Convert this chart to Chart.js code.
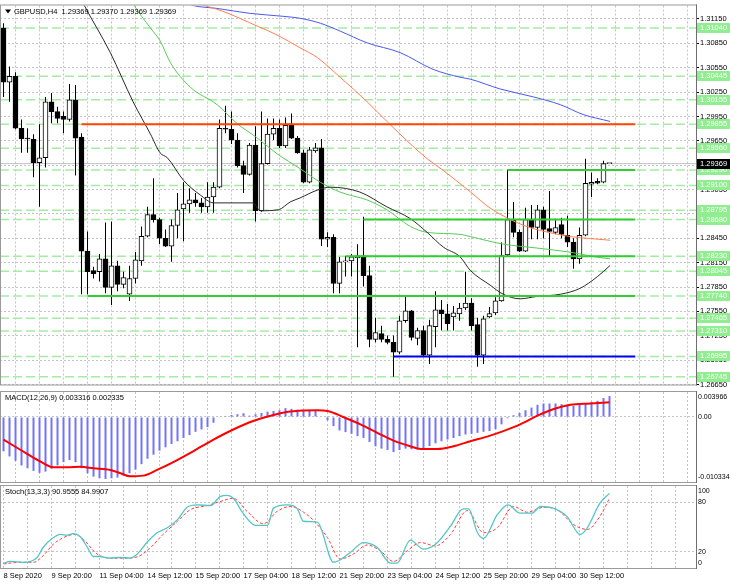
<!DOCTYPE html>
<html>
<head>
<meta charset="utf-8">
<script src="https://cdn.jsdelivr.net/npm/chart.js@4.4.1/dist/chart.umd.min.js"></script>
<style>
  body { margin: 0; background: #fff; width: 730px; height: 584px; overflow: hidden; }
  canvas { position: absolute; left: 0; }
</style>
</head>
<body>
<canvas id="main" width="730" height="390" style="top:0"></canvas>
<canvas id="macd" width="730" height="94" style="top:390px"></canvas>
<canvas id="stoch" width="730" height="100" style="top:484px"></canvas>
<script>
// --- GBPUSD H4 candles, bar 0 = 8 Sep 12:00 ---
const opens = [1.31038,1.30373,1.30445,1.29805,1.29684,1.29672,1.29381,1.29442,1.30131,1.30010,
  1.29950,1.29913,1.30155,1.29696,1.28293,1.28052,1.28039,1.28197,1.27846,1.28112,
  1.27882,1.27761,1.27955,1.28172,1.28475,1.28741,1.28680,1.28450,1.28354,1.28608,
  1.28813,1.28874,1.28922,1.28886,1.28837,1.28958,1.29079,1.29805,1.29792,1.29660,
  1.29345,1.29236,1.29599,1.28789,1.29369,1.29732,1.29805,1.29587,1.29841,1.29684,
  1.29502,1.29140,1.29527,1.29563,1.28438,1.28463,1.27894,1.28160,1.28172,1.28209,
  1.28233,1.27991,1.27205,1.27278,1.27205,1.27169,1.27048,1.27435,1.27556,1.27217,
  1.27314,1.27012,1.27362,1.27568,1.27520,1.27483,1.27520,1.27592,1.27653,1.27387,
  1.27012,1.27483,1.27532,1.27680,1.28245,1.28680,1.28523,1.28293,1.28680,1.28583,
  1.28801,1.28571,1.28523,1.28620,1.28487,1.28402,1.28197,1.28487,1.29115,1.29152,
  1.29140,1.29369];
const highs = [1.31098,1.30566,1.30494,1.29913,1.29805,1.29732,1.29853,1.30191,1.30240,1.30071,
  1.30010,1.30349,1.30337,1.29744,1.28535,1.28100,1.28257,1.28644,1.28656,1.28172,
  1.28039,1.28112,1.28281,1.28596,1.28837,1.29188,1.28704,1.28559,1.28680,1.29007,
  1.29140,1.29067,1.29007,1.28946,1.29140,1.29140,1.29913,1.30083,1.30010,1.29744,
  1.29406,1.29623,1.29829,1.30010,1.29926,1.29926,1.29913,1.29938,1.29986,1.29708,
  1.29539,1.29575,1.29623,1.29672,1.28523,1.28499,1.28221,1.28233,1.28257,1.28378,
  1.28716,1.28112,1.27471,1.27374,1.27254,1.27254,1.27495,1.27737,1.27568,1.27350,
  1.27374,1.27447,1.27798,1.27689,1.27640,1.27616,1.27653,1.28039,1.27713,1.27471,
  1.27495,1.27604,1.27725,1.28399,1.29298,1.28898,1.28559,1.28825,1.28861,1.28861,
  1.28837,1.29031,1.28692,1.28704,1.28728,1.28450,1.28583,1.29430,1.29261,1.29188,
  1.29406,1.29370];
const lows = [1.30191,1.30131,1.29792,1.29502,1.29502,1.29200,1.28837,1.29321,1.29865,1.29865,
  1.29744,1.29889,1.29224,1.27761,1.27761,1.27955,1.27919,1.27773,1.27628,1.27798,
  1.27834,1.27677,1.27894,1.28112,1.28463,1.28644,1.28378,1.28342,1.28160,1.28450,
  1.28414,1.28765,1.28837,1.28765,1.28765,1.28765,1.29067,1.29744,1.29611,1.29321,
  1.29007,1.29224,1.28656,1.28777,1.29357,1.29660,1.29563,1.29563,1.29672,1.29490,
  1.29128,1.29128,1.29502,1.28354,1.28342,1.27773,1.27773,1.27979,1.27979,1.27109,
  1.27858,1.27109,1.27169,1.27169,1.27145,1.26746,1.27024,1.27411,1.27193,1.27133,
  1.26988,1.26903,1.27109,1.27314,1.27314,1.27314,1.27435,1.27568,1.27314,1.26867,
  1.26903,1.27471,1.27507,1.27668,1.28221,1.28463,1.28281,1.28281,1.28438,1.28438,
  1.28450,1.28233,1.28499,1.28450,1.28342,1.28076,1.28136,1.28475,1.28958,1.29115,
  1.29128,1.29369];
const closes = [1.30373,1.30445,1.29805,1.29672,1.29672,1.29381,1.29442,1.30131,1.30010,1.29926,
  1.29913,1.30155,1.29684,1.28293,1.28039,1.28015,1.28197,1.27846,1.28112,1.27882,
  1.27967,1.27955,1.28185,1.28475,1.28741,1.28680,1.28450,1.28354,1.28608,1.28801,
  1.28874,1.28922,1.28886,1.28837,1.28958,1.29079,1.29805,1.29792,1.29660,1.29345,
  1.29236,1.29599,1.28789,1.29369,1.29732,1.29805,1.29587,1.29841,1.29684,1.29502,
  1.29140,1.29539,1.29563,1.28438,1.28463,1.27894,1.28160,1.28172,1.28221,1.28233,
  1.27991,1.27205,1.27290,1.27205,1.27169,1.27048,1.27435,1.27556,1.27229,1.27314,
  1.27012,1.27374,1.27568,1.27520,1.27399,1.27532,1.27592,1.27653,1.27374,1.27012,
  1.27459,1.27523,1.27680,1.28237,1.28680,1.28523,1.28293,1.28680,1.28583,1.28801,
  1.28559,1.28535,1.28583,1.28499,1.28402,1.28197,1.28487,1.29128,1.29140,1.29128,
  1.29369,1.29369];
const lastPrice = 1.29369;

// moving averages, read as [bar, price]
const maBlack = [[12.5,1.31461],[13.3,1.31340],[17.8,1.30736],[21.6,1.30131],[24.5,1.29732],[26.1,1.29502],
  [27.3,1.29442],[30,1.29164],[32.8,1.28983],[35,1.28886],[41.6,1.28886],[42.8,1.28789],[45.8,1.28801],
  [47.8,1.28898],[49.4,1.28946],[52.3,1.29043],[54.5,1.29079],[59.4,1.29019],[63.9,1.28837],[67.8,1.28692],
  [70.6,1.28523],[73.3,1.28342],[76.1,1.28221],[77.8,1.28055],[81.1,1.27874],[83.3,1.27761],[86.1,1.27705],
  [88.9,1.27734],[92.8,1.27761],[96.1,1.27834],[99,1.27979],[101.1,1.28116]];
const maGreen = [[20.8,1.31461],[21.6,1.31340],[24.5,1.31038],[26.1,1.30881],[27.8,1.30615],[31.1,1.30312],
  [35.6,1.30095],[38.9,1.29865],[42.3,1.29684],[45.6,1.29490],[49.4,1.29309],[52.8,1.29140],[56.1,1.29019],
  [60.6,1.28922],[63.9,1.28801],[67.8,1.28596],[70.6,1.28523],[76.1,1.28499],[77.8,1.28471],[83.3,1.28378],
  [88.9,1.28330],[94.5,1.28278],[99,1.28217],[101.1,1.28197]];
const maOrange = [[29.5,1.31400],[32.3,1.31340],[36.6,1.31243],[42.3,1.31062],[45.6,1.30953],[49.4,1.30796],
  [52.3,1.30675],[56.1,1.30433],[60.6,1.30131],[63.9,1.29889],[67.3,1.29647],[70.6,1.29430],[73.3,1.29285],
  [77.8,1.29022],[81.1,1.28822],[84.5,1.28680],[87.8,1.28580],[91.1,1.28519],[94.5,1.28471],[97.8,1.28447],
  [101.1,1.28426]];
const maBlue = [[30.3,1.31352],[31.6,1.31316],[35.6,1.31280],[41.1,1.31219],[46.6,1.31183],[49.4,1.31159],
  [52.8,1.31098],[56.1,1.31001],[60.6,1.30856],[66.1,1.30736],[71.6,1.30530],[76.1,1.30433],[77.8,1.30409],
  [82.8,1.30288],[88.3,1.30191],[92.8,1.30095],[96.6,1.29974],[101.1,1.29889]];

// horizontal levels
const dashedLevels = [1.31040,1.30445,1.30155,1.29855,1.29560,1.29290,1.29100,1.28795,
  1.28680,1.28230,1.28045,1.27740,1.27465,1.27310,1.26995,1.26745];
const levelPrices = [1.29855, 1.29290, 1.28680, 1.28230, 1.27740, 1.26995];
const levelStarts = [13, 84, 60, 57, 14, 65];
const priceTicks = [1.26650,1.26950,1.27250,1.27550,1.27850,1.28150,1.28450,1.28750,
  1.29050,1.29350,1.29650,1.29950,1.30250,1.30550,1.30850,1.31150];

// MACD(12,26,9)
const macdHist = [-0.00546,-0.00627,-0.00696,-0.00771,-0.00815,-0.00857,-0.00889,-0.00868,-0.00824,-0.00771,
  -0.00718,-0.00686,-0.00718,-0.00815,-0.00895,-0.00948,-0.00975,-0.00985,-0.00975,-0.00964,
  -0.00932,-0.00895,-0.00836,-0.00750,-0.00664,-0.00599,-0.00535,-0.00482,-0.00429,-0.00386,
  -0.00333,-0.00289,-0.00236,-0.00198,-0.00161,-0.00092,-0.00005,0.00016,0.00032,0.00043,
  0.00059,0.00021,0.00043,0.00064,0.00085,0.00096,0.00108,0.00140,0.00129,0.00117,
  0.00108,0.00108,0.00108,0.00000,-0.00053,-0.00145,-0.00214,-0.00241,-0.00268,-0.00305,
  -0.00333,-0.00397,-0.00466,-0.00503,-0.00525,-0.00558,-0.00525,-0.00503,-0.00514,-0.00519,
  -0.00493,-0.00461,-0.00418,-0.00386,-0.00358,-0.00333,-0.00305,-0.00278,-0.00268,-0.00252,
  -0.00236,-0.00225,-0.00193,-0.00117,-0.00021,0.00027,0.00064,0.00108,0.00149,0.00193,
  0.00214,0.00214,0.00214,0.00204,0.00193,0.00177,0.00193,0.00214,0.00236,0.00257,
  0.00301,0.00332];
const macdSignal = [[0,-0.00360],[2.8,-0.00521],[6.1,-0.00707],[8.3,-0.00799],[10.6,-0.00799],[12.8,-0.00793],
  [15,-0.00815],[17.8,-0.00842],[19.5,-0.00895],[21.1,-0.00943],[23.3,-0.00932],[25.6,-0.00842],[28.3,-0.00718],
  [31.6,-0.00546],[35,-0.00360],[38.3,-0.00199],[41.6,-0.00064],[45,0.00032],[47.8,0.00085],[52.3,0.00106],
  [54,0.00096],[56.6,0],[59.5,-0.00119],[62.3,-0.00252],[65,-0.00376],[67.8,-0.00466],[69.5,-0.00509],
  [72.3,-0.00509],[75,-0.00466],[77.8,-0.00386],[81.1,-0.00296],[83.3,-0.00225],[86.1,-0.00119],[88.9,0.00016],
  [91.6,0.00122],[94.5,0.00193],[97.8,0.00214],[101,0.00234]];
const macdAxisValues = [0.003966, 0, -0.010334];
const macdAxisLabels = ['0.003966', '0.00', '-0.010334'];

// Stochastic(13,3,3)
const stochMain = [[0,5.5],[1.1,8],[3.3,6.8],[4.5,8],[5.6,12.8],[6.6,25],[8.1,36],[9.5,41],[10.6,40],[11.6,42],
  [12.8,38],[14,25],[15,14],[16.1,14],[17.8,12],[19.5,13],[21.1,12],[22.3,17],[24,32],[25.6,43],[27.3,49],
  [29,59],[30.6,74],[32.3,77],[34.5,76],[36.1,87],[37.3,88.5],[38.3,85],[40,66],[42,52],[44,52],[45,73],
  [47.3,77],[48.9,73],[50,57],[52.3,56],[55,7],[57.8,19],[60,31],[62.3,25],[64.5,6],[65.6,6],[67.8,34],
  [70,23],[72,29],[74.5,51],[76.6,72],[77.5,72],[79,43],[80,36],[82.3,65],[84.1,77],[86.1,67],[88.1,67],
  [89.5,75],[91.6,73],[93.9,63],[96.1,41],[97.3,49],[99.4,79],[101,91]];
const stochSignal = [[0,5],[2.8,7],[5,7],[6.6,15],[8.3,29],[10.6,39],[12,41],[13.3,35],[15.6,17],[17.8,12],
  [20,12],[22.3,13.6],[24.5,25],[26.6,41],[29,57],[31.1,71],[33.9,76],[36.1,81],[38.3,85],[40.6,69],[43.3,54],
  [45.6,69],[47.8,75],[50.6,65],[52.3,53],[54,37],[56.1,11],[58.3,17],[60.6,28],[62.8,21],[65,8],[67.3,21],
  [69.5,31],[72,27],[74.5,41],[77.3,70],[80,43],[82.3,49],[85,75],[87.3,68],[90,74],[92.3,71],[95,53],
  [97.3,47],[99.4,63],[101,85]];
const stochAxisValues = [100, 80, 20, 0];
const stochLevels = [20, 80];

// bottom time axis, one label every 8 bars
const timeLabels = ['8 Sep 2020','9 Sep 20:00','11 Sep 04:00','14 Sep 12:00','15 Sep 20:00','17 Sep 04:00',
  '18 Sep 12:00','21 Sep 20:00','23 Sep 04:00','24 Sep 12:00','25 Sep 20:00','29 Sep 04:00','30 Sep 12:00'];

const FONT = '"Liberation Sans", Arial, sans-serif';
const xMin = -0.5833, xMax = 115.4167;   // 116 slots of 6px, leaves room on the right
const gridBars = Array.from({ length: 29 }, (_, k) => k * 4);

// frame, titles, right-hand labels
const panelPlugin = {
  id: 'panel',
  afterDraw(chart, args, opts) {
    const { ctx, chartArea: a } = chart;
    const y = chart.scales.y;
    ctx.save();
    ctx.strokeStyle = '#9a9a9a';
    ctx.lineWidth = 1;
    ctx.strokeRect(0.5, a.top - 0.5, a.right, a.bottom - a.top + 1);
    ctx.strokeStyle = '#6e6e6e';
    ctx.beginPath();
    ctx.moveTo(a.right + 0.5, a.top - 1);
    ctx.lineTo(a.right + 0.5, a.bottom + 1);
    ctx.stroke();

    ctx.textBaseline = 'middle';
    ctx.fillStyle = '#000';
    ctx.font = '7.5px ' + FONT;
    if (opts.arrow) {
      ctx.beginPath();
      ctx.moveTo(5, a.top + 4); ctx.lineTo(11, a.top + 4); ctx.lineTo(8, a.top + 8);
      ctx.closePath(); ctx.fill();
    }
    ctx.fillText(opts.title, opts.titleX, a.top + 6);

    ctx.font = '7px ' + FONT;
    (opts.axis || []).forEach(t => {
      const py = Math.min(Math.max(y.getPixelForValue(t.value), a.top + 5), a.bottom - 5);
      ctx.fillText(t.text, a.right + 2, py);
    });

    ctx.font = '7.5px ' + FONT;
    (opts.tags || []).forEach(t => {
      const py = Math.round(y.getPixelForValue(t.value));
      ctx.fillStyle = t.bg;
      ctx.fillRect(a.right + 1, py - 5, 34, 10);
      ctx.fillStyle = t.fg;
      ctx.fillText(t.value.toFixed(5), a.right + 4, py);
    });
    ctx.restore();
  }
};

function xAxis(showLabels) {
  return {
    type: 'linear', min: xMin, max: xMax, offset: false,
    afterBuildTicks: s => { s.ticks = gridBars.map(v => ({ value: v })); },
    afterFit: s => { s.height = showLabels ? 16 : 0; },
    grid: { color: '#c4c4c4', drawTicks: false },
    border: { display: false, dash: [2, 2] },
    ticks: {
      display: showLabels, autoSkip: false, maxRotation: 0, align: 'start', padding: 3,
      color: '#000', font: { family: FONT, size: 7.5 },
      callback: v => (v % 8 === 0 && timeLabels[v / 8]) ? timeLabels[v / 8] : ''
    }
  };
}

function baseOptions(yAxis, showX, panel) {
  return {
    responsive: false, animation: false, events: [],
    layout: { padding: { top: 2, bottom: showX ? 0 : 2, left: 0, right: 0 }, autoPadding: false },
    plugins: { legend: { display: false }, tooltip: { enabled: false }, panel },
    scales: { x: xAxis(showX), y: yAxis }
  };
}

const flat = (p, from, to) => [{ x: from, y: p }, { x: to, y: p }];
const pts = arr => arr.map(([x, y]) => ({ x, y }));

// --- price panel ---
const mainSets = [];
dashedLevels.forEach(p => mainSets.push({
  type: 'line', data: flat(p, xMin, xMax), borderColor: '#a4eca4', borderWidth: 1.5,
  borderDash: [9, 4], pointRadius: 0, order: 20
}));
mainSets.push({ type: 'line', data: flat(lastPrice, xMin, xMax), borderColor: '#c0c0c0',
  borderWidth: 1, pointRadius: 0, order: 19 });
mainSets.push({
  type: 'bar', data: highs.map((h, i) => ({ x: i, y: [lows[i], h] })),
  backgroundColor: '#000', barThickness: 1, inflateAmount: 0, grouped: false, order: 11
});
mainSets.push({
  type: 'bar', data: opens.map((o, i) => ({ x: i, y: [o, closes[i]] })),
  backgroundColor: c => closes[c.dataIndex] >= opens[c.dataIndex] ? '#fff' : '#000',
  borderColor: '#000', borderWidth: 1, borderSkipped: false, barThickness: 5,
  minBarLength: 1, grouped: false, order: 10
});
[[maBlack, '#2a2a2a'], [maGreen, '#55cc55'], [maOrange, '#ff7f50'], [maBlue, '#4b58f0']].forEach(([arr, col]) =>
  mainSets.push({ type: 'line', data: pts(arr), borderColor: col, borderWidth: 1, pointRadius: 0,
    cubicInterpolationMode: 'monotone', order: 5 }));
const levelColors = ['#ff4500', '#32cd32', '#32cd32', '#32cd32', '#32cd32', '#0000ff'];
levelPrices.forEach((p, k) => mainSets.push({
  type: 'line', data: flat(p, levelStarts[k], 105.3), borderColor: levelColors[k],
  borderWidth: 2, pointRadius: 0, order: 1
}));

new Chart(document.getElementById('main'), {
  type: 'bar',
  data: { datasets: mainSets },
  options: baseOptions({
    position: 'right', min: 1.2665, max: 1.31316,
    afterBuildTicks: s => { s.ticks = priceTicks.map(v => ({ value: v })); },
    afterFit: s => { s.width = 34; },
    grid: { color: '#c4c4c4', tickColor: '#000', tickLength: 3 },
    border: { display: false, dash: [2, 2] },
    ticks: { padding: 1, color: '#000', font: { family: FONT, size: 7.5 }, callback: v => v.toFixed(5) }
  }, false, {
    arrow: true, titleX: 14,
    title: 'GBPUSD,H4  1.29369 1.29370 1.29369 1.29369',
    tags: dashedLevels.map(v => ({ value: v, bg: '#90ee90', fg: '#fff' }))
      .concat([{ value: lastPrice, bg: '#000', fg: '#fff' }])
  }),
  plugins: [panelPlugin]
});

// --- MACD panel ---
new Chart(document.getElementById('macd'), {
  type: 'bar',
  data: {
    datasets: [
      { type: 'line', data: pts(macdSignal), borderColor: '#ff0000', borderWidth: 2, pointRadius: 0,
        cubicInterpolationMode: 'monotone', order: 1 },
      { type: 'bar', data: macdHist.map((v, i) => ({ x: i, y: v })), backgroundColor: '#7272ff',
        barThickness: 2, inflateAmount: 0, grouped: false, order: 2 }
    ]
  },
  options: baseOptions({
    position: 'right', min: -0.010334, max: 0.003966,
    afterBuildTicks: s => { s.ticks = [{ value: 0 }]; },
    afterFit: s => { s.width = 34; },
    grid: { color: '#c4c4c4', drawTicks: false },
    border: { display: false, dash: [2, 2] },
    ticks: { display: false }
  }, false, {
    titleX: 5, title: 'MACD(12,26,9) 0.003316 0.002335',
    axis: macdAxisValues.map((v, k) => ({ value: v, text: macdAxisLabels[k] }))
  }),
  plugins: [panelPlugin]
});

// --- Stochastic panel ---
new Chart(document.getElementById('stoch'), {
  type: 'line',
  data: {
    datasets: [
      { data: pts(stochMain), borderColor: '#52c6c6', borderWidth: 1.3, pointRadius: 0,
        cubicInterpolationMode: 'monotone', order: 1 },
      { data: pts(stochSignal), borderColor: '#ff3b3b', borderWidth: 1, borderDash: [3, 2], pointRadius: 0,
        cubicInterpolationMode: 'monotone', order: 2 }
    ]
  },
  options: baseOptions({
    position: 'right', min: 0, max: 100,
    afterBuildTicks: s => { s.ticks = stochLevels.map(v => ({ value: v })); },
    afterFit: s => { s.width = 34; },
    grid: { color: '#c4c4c4', drawTicks: false },
    border: { display: false, dash: [2, 2] },
    ticks: { display: false }
  }, true, {
    titleX: 5, title: 'Stoch(13,3,3) 90.9555 84.9907',
    axis: stochAxisValues.map(v => ({ value: v, text: String(v) }))
  }),
  plugins: [panelPlugin]
});
</script>
</body>
</html>
